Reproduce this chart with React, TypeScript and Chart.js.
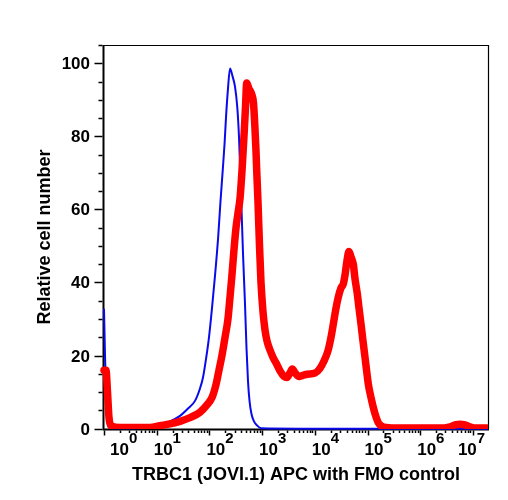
import { useEffect, useRef } from "react";
import { Chart, registerables } from "chart.js";

Chart.register(...registerables);

// Fluorescence intensity (APC) and relative cell number for each histogram.
const fmoX = [
  1, 1.045, 1.115, 1.19, 1.3, 3.11, 7.46, 11.6, 17.9, 27.7, 39.3, 53.3, 66.3, 75.6, 86.1,
  98.2, 112, 128, 146, 162, 179, 194, 207, 225, 246, 274, 306, 338, 364, 381, 407, 434,
  474, 506, 540, 577, 629, 702, 800, 953, 5240, 19340000,
];
const fmoY = [
  32.8, 20, 6, 1, 0.2, 0.1, 0.4, 1, 2, 3.5, 5.5, 7.6, 11, 14, 19, 25, 33, 42, 52, 62,
  70.7, 78, 85.4, 93, 98.6, 96.5, 93.6, 88, 80, 72, 60, 48, 34, 22, 13, 7.6, 4, 2, 0.9,
  0.1, 0, 0,
];

const trbcX = [
  1, 1.091, 1.165, 1.244, 1.358, 2.012, 7.46, 11.55, 17.9, 27.7, 42.8, 66.3, 90, 112, 133,
  152, 173, 198, 225, 246, 268, 293, 320, 349, 381, 416, 453, 484, 511, 564, 629, 687,
  733, 766, 790, 836, 893, 953, 1040, 1135, 1239, 1412, 1610, 1917, 2186, 2603, 2969,
  3384, 3742, 4210, 5014, 5972, 7112, 10090, 12550, 14950, 17800, 20300, 22440, 25260,
  27920, 31430, 34740, 37420, 40830, 44570, 48640, 53780, 57920, 64050, 68990, 75290,
  82140, 89670, 97840, 103600, 116500, 128900, 145000, 160300, 180400, 205700, 332600,
  2376000, 3678000, 4575000, 5691000, 7083000, 8810000, 10960000, 19340000,
];
const trbcY = [
  16, 16, 10, 3, 0.8, 0.3, 0.3, 0.8, 1.3, 2, 3, 4.5, 6.5, 8.5, 12, 16, 20, 25, 30, 36, 42,
  49, 55, 59, 63, 70.7, 80, 88, 94.6, 93, 91.7, 89, 82, 76, 70.7, 62, 50, 40, 32, 27, 24,
  21.5, 19.5, 17.5, 15.8, 14.3, 14, 15.3, 16.3, 15.3, 14.3, 14.6, 14.9, 15.2, 16.5, 18.5,
  21.3, 25, 28.6, 33, 36, 38.5, 39.6, 42, 46, 48.5, 47, 45, 41, 36.9, 33, 28.6, 24, 19.5,
  15, 12.2, 8.5, 5.8, 3.2, 1.6, 0.8, 0.4, 0.15, 0.15, 0.5, 1, 1.2, 1, 0.5, 0.15, 0.15,
];

// Axis ranges and tick marks.
const xMin = 1;
const xMax = 19340000;
const yMin = -0.1;
const yMax = 105;
const yLabelValues = [0, 20, 40, 60, 80, 100];
const yMinorStep = 5;
const xDecades = [0, 1, 2, 3, 4, 5, 6, 7];

const xTitle = "TRBC1 (JOVI.1) APC with FMO control";
const yTitle = "Relative cell number";

const FONT = '"Liberation Sans", Arial, Helvetica, sans-serif';

// Draws the box, axes, tick marks, decade labels and axis titles.
const flowAxes = {
  id: "flowAxes",
  beforeDatasetsDraw(chart: any) {
    const { ctx, chartArea: a } = chart;
    const xs = chart.scales.x;
    const ys = chart.scales.y;
    ctx.save();
    ctx.strokeStyle = "#000";
    ctx.fillStyle = "#000";

    // thin top and right frame
    ctx.lineWidth = 1.2;
    ctx.beginPath();
    ctx.moveTo(a.left, a.top + 0.5);
    ctx.lineTo(a.right + 0.5, a.top + 0.5);
    ctx.lineTo(a.right + 0.5, a.bottom);
    ctx.stroke();

    // heavier left and bottom axis lines
    const axisX = a.left - 0.5;
    const axisY = a.bottom + 0.5;
    ctx.lineWidth = 2;
    ctx.beginPath();
    ctx.moveTo(axisX, a.top);
    ctx.lineTo(axisX, axisY + 1);
    ctx.moveTo(axisX - 1, axisY);
    ctx.lineTo(a.right + 1, axisY);
    ctx.stroke();

    // y ticks every 5, labels every 20
    ctx.lineWidth = 1.5;
    ctx.beginPath();
    for (let v = 0; v <= yMax; v += yMinorStep) {
      const py = Math.round(ys.getPixelForValue(v)) + 0.5;
      const major = yLabelValues.includes(v);
      ctx.moveTo(axisX - 1, py);
      ctx.lineTo(axisX - 1 - (major ? 8 : 4), py);
    }
    ctx.stroke();

    ctx.font = `bold 17px ${FONT}`;
    ctx.textAlign = "right";
    ctx.textBaseline = "alphabetic";
    for (const v of yLabelValues) {
      const py = ys.getPixelForValue(v);
      ctx.fillText(String(v), 90, py + 6);
    }

    // x ticks: decades long, 2..9 short
    ctx.beginPath();
    for (const d of xDecades) {
      for (let k = 1; k <= 9; k++) {
        const val = k * Math.pow(10, d);
        if (val > xMax) continue;
        const px = Math.round(xs.getPixelForValue(val)) + 0.5;
        const len = k === 1 ? 5 : 2.5;
        ctx.moveTo(px, axisY + 1);
        ctx.lineTo(px, axisY + 1 + len);
      }
    }
    ctx.stroke();

    // decade labels 10^n
    ctx.textAlign = "left";
    for (const d of xDecades) {
      const px = xs.getPixelForValue(Math.pow(10, d));
      let offset = -3;
      if (d === xDecades[0]) offset = 6;
      if (d === xDecades[xDecades.length - 1]) offset = -15;
      ctx.font = `bold 17px ${FONT}`;
      const base = "10";
      ctx.fillText(base, px + offset, 455);
      const w = ctx.measureText(base).width;
      ctx.font = `bold 15px ${FONT}`;
      ctx.fillText(String(d), px + offset + w, 443);
    }

    // axis titles
    ctx.font = `bold 18px ${FONT}`;
    ctx.textAlign = "center";
    ctx.fillText(xTitle, (a.left + a.right) / 2, 480);

    ctx.translate(50, (a.top + a.bottom) / 2);
    ctx.rotate(-Math.PI / 2);
    ctx.fillText(yTitle, 0, 0);
    ctx.restore();
  },
};

export default function App() {
  const canvasRef = useRef<HTMLCanvasElement>(null);

  useEffect(() => {
    const canvas = canvasRef.current;
    if (!canvas) return;
    const chart = new Chart(canvas, {
      type: "line",
      data: {
        datasets: [
          {
            label: "TRBC1 (JOVI.1) APC",
            data: trbcX.map((x, i) => ({ x, y: trbcY[i] })),
            borderColor: "rgb(255,0,0)",
            borderWidth: 7.5,
            pointRadius: 0,
            cubicInterpolationMode: "monotone",
            borderJoinStyle: "round",
            borderCapStyle: "round",
            fill: false,
            order: 1,
            clip: { left: 4, top: 5, right: 0, bottom: 0 },
          },
          {
            label: "FMO control",
            data: fmoX.map((x, i) => ({ x, y: fmoY[i] })),
            borderColor: "rgb(10,10,235)",
            borderWidth: 2,
            pointRadius: 0,
            cubicInterpolationMode: "monotone",
            borderJoinStyle: "round",
            fill: false,
            order: 2,
            clip: { left: 2, top: 5, right: 0, bottom: 2 },
          },
        ],
      },
      options: {
        responsive: false,
        animation: false,
        devicePixelRatio: 1,
        layout: { padding: { left: 104, right: 20, top: 45, bottom: 71 } },
        scales: {
          x: { type: "logarithmic", min: xMin, max: xMax, display: false },
          y: { type: "linear", min: yMin, max: yMax, display: false },
        },
        plugins: {
          legend: { display: false },
          tooltip: { enabled: false },
        },
      },
      plugins: [flowAxes],
    } as any);
    return () => chart.destroy();
  }, []);

  return (
    <div
      style={{
        position: "fixed",
        left: 0,
        top: 0,
        width: 508,
        height: 500,
        background: "#fff",
      }}
    >
      <canvas ref={canvasRef} width={508} height={500} style={{ display: "block" }} />
    </div>
  );
}
